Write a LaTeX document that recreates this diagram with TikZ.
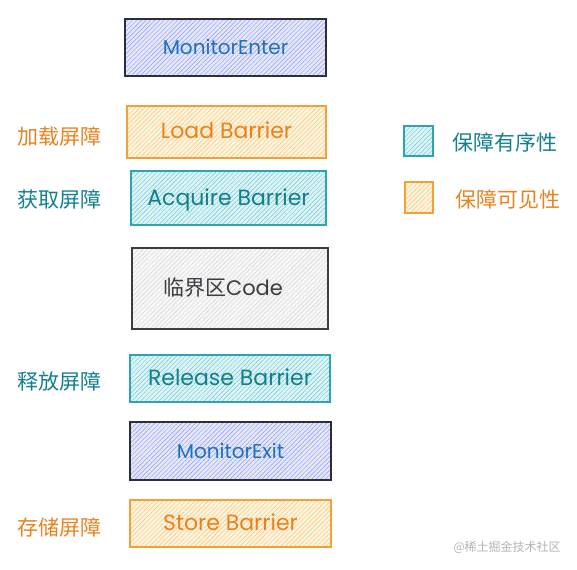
\documentclass[tikz,border=0pt]{standalone}
\usepackage{fontspec}
\setmainfont{Poppins}
\newfontfamily\cjk{Noto Sans CJK SC}
\usetikzlibrary{patterns.meta}
\definecolor{bluestroke}{HTML}{2B2F3A}
\definecolor{bluefill}{HTML}{E4E7FC}
\definecolor{bluehatch}{HTML}{8E9CEB}
\definecolor{bluetext}{HTML}{1F6FBF}
\definecolor{orstroke}{HTML}{F2A13A}
\definecolor{orfill}{HTML}{FFF4DC}
\definecolor{orhatch}{HTML}{F6C27A}
\definecolor{ortext}{HTML}{E8821E}
\definecolor{tlstroke}{HTML}{2EA3B3}
\definecolor{tlfill}{HTML}{DDF4F7}
\definecolor{tlhatch}{HTML}{6CC8D5}
\definecolor{tltext}{HTML}{127F8C}
\definecolor{gystroke}{HTML}{3A3D42}
\definecolor{gyfill}{HTML}{F7F7F7}
\definecolor{gyhatch}{HTML}{D4D4D4}
\definecolor{gytext}{HTML}{3A3D42}
\definecolor{wmark}{HTML}{B4B4B4}
\tikzset{
  hbox/.style n args={3}{draw=#1, line width=1.3pt, rectangle, inner sep=0pt,
    preaction={fill=#2},
    preaction={pattern={Lines[angle=45,distance=3.2pt,line width=0.45pt]}, pattern color=#3}},
  boxtext/.style={text height=15pt, text depth=1pt},
  bluebox/.style={hbox={bluestroke}{bluefill}{bluehatch}, boxtext, text=bluetext, font=\fontsize{20}{24}\selectfont},
  orbox/.style={hbox={orstroke}{orfill}{orhatch}, boxtext, text=ortext, font=\fontsize{22}{26}\selectfont},
  tlbox/.style={hbox={tlstroke}{tlfill}{tlhatch}, boxtext, text=tltext, font=\fontsize{22}{26}\selectfont},
  gybox/.style={hbox={gystroke}{gyfill}{gyhatch}, boxtext, text=gytext, font=\fontsize{21}{25}\selectfont},
  lbl/.style={inner sep=0pt, font=\cjk\fontsize{21}{25}\selectfont},
}
\begin{document}
\begin{tikzpicture}[x=1pt,y=-1pt]
\useasboundingbox (0,0) rectangle (577,569);
% main column
\node[bluebox, minimum width=201pt, minimum height=57pt] (enter) at (225.5,47.5) {MonitorEnter};
\node[orbox, minimum width=199pt, minimum height=52pt] (load) at (226.5,132) {Load Barrier};
\node[tlbox, minimum width=195pt, minimum height=54pt] (acq) at (228.5,198) {Acquire Barrier};
\node[gybox, minimum width=196pt, minimum height=81pt] (code) at (230,288.5) {\hspace*{-14pt}{\cjk 临界区}Code};
\node[tlbox, minimum width=200pt, minimum height=47pt] (rel) at (230,378.5) {Release Barrier};
\node[bluebox, minimum width=201pt, minimum height=58pt] (exit) at (230.5,451) {MonitorExit};
\node[orbox, minimum width=201pt, minimum height=47pt] (store) at (230.5,523.5) {Store Barrier};
% left labels
\node[lbl, text=ortext] (l1) at (59,136) {加载屏障};
\node[lbl, text=tltext] (l2) at (59,199) {获取屏障};
\node[lbl, text=tltext] (l3) at (59,381) {释放屏障};
\node[lbl, text=ortext] (l4) at (59,527) {存储屏障};
% legend
\node[hbox={tlstroke}{tlfill}{tlhatch}, minimum width=29pt, minimum height=30pt] (lg1) at (418.5,141) {};
\node[hbox={orstroke}{orfill}{orhatch}, minimum width=28pt, minimum height=31pt] (lg2) at (419,197.5) {};
\node[lbl, text=tltext, anchor=west] (lt1) at (452,142) {保障有序性};
\node[lbl, text=ortext, anchor=west] (lt2) at (455,199) {保障可见性};
% watermark
\node[inner sep=0pt, text=wmark, font=\cjk\fontsize{12}{14}\selectfont] (wm) at (507,547) {@稀土掘金技术社区};
\end{tikzpicture}
\end{document}
